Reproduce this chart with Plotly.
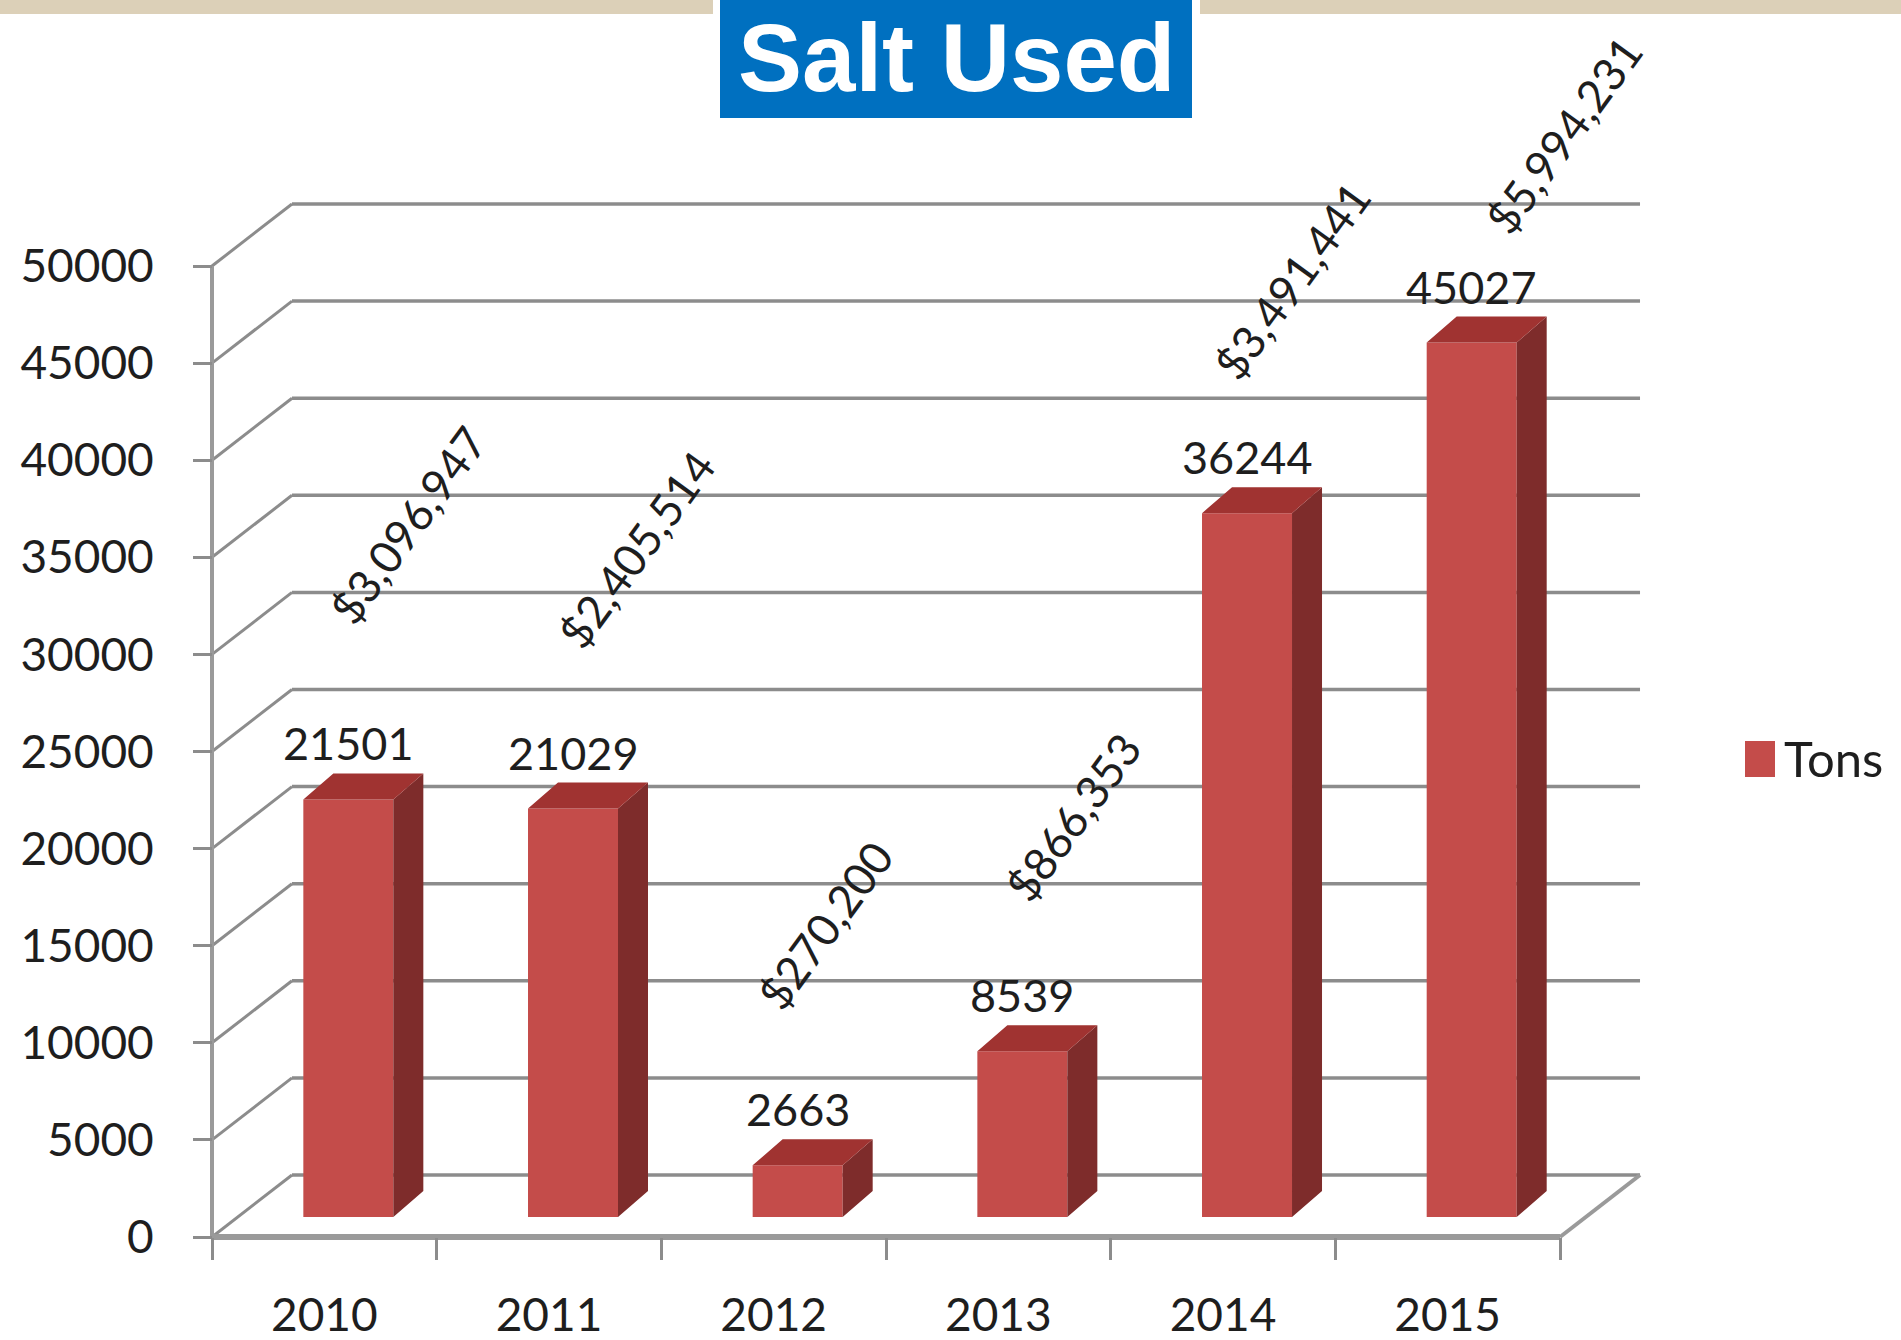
import plotly.graph_objects as go

# ---------------- data ----------------
years = ["2010", "2011", "2012", "2013", "2014", "2015"]
tons = [21501, 21029, 2663, 8539, 36244, 45027]
costs = ["$3,096,947", "$2,405,514", "$270,200", "$866,353", "$3,491,441", "$5,994,231"]
y_tick_values = [0, 5000, 10000, 15000, 20000, 25000, 30000, 35000, 40000, 45000, 50000]
y_tick_labels = ["0", "5000", "10000", "15000", "20000", "25000", "30000",
                 "35000", "40000", "45000", "50000"]
series_name = "Tons"
title_text = "Salt Used"

# ---------------- layout / style ----------------
W, H = 1901, 1340
FONT = "Lato, 'Open Sans', sans-serif"
TXT = "#1e1e1e"
GRID = "#8c8c8c"
FRONT = "#C44C4A"
SIDE = "#7E2C2B"
TOP = "#A03331"

X0_PX = 212          # pixel of front-left corner (x = -0.5)
CAT_PX = 224.67      # pixels per category
Y0_PX = 1237         # pixel row of value 0 on the front plane
VAL_PX = 971 / 50000 # pixels per ton


def ux(px):
    return px / CAT_PX


def uy(px):
    return px / VAL_PX


n = len(years)
xs = list(range(n))
WALL_DX, WALL_DY = ux(80), uy(62)     # depth of floor / side wall
BAR_DX, BAR_BASE = ux(24), uy(20)     # bars sit a little back from the front plane
BAR_W = ux(90)
DEP_DX, DEP_DY = ux(30), uy(26)       # depth of each bar

PAD_L, PAD_B = 7, 8
x_lo = -0.5 - ux(PAD_L)
x_hi = n - 0.5 + WALL_DX + ux(12)
y_lo = -uy(PAD_B)
y_hi = uy(Y0_PX)
dom_x = [(X0_PX - PAD_L) / W, (X0_PX + (x_hi + 0.5) * CAT_PX) / W]
dom_y = [(H - Y0_PX - PAD_B) / H, 1]

# cost label nudges (pixels from bar top)
COST_NUDGE = [(60, -274), (63, -259), (28, -240), (51, -234), (45, -232), (92, -208)]

fig = go.Figure()

# ---- back wall / side wall grid lines (shapes, below traces) ----
shapes = []
left, right = -0.5, n - 0.5
for g in y_tick_values:
    shapes.append(dict(type="line", xref="x", yref="y", layer="below",
                       x0=left, y0=g, x1=left + WALL_DX, y1=g + WALL_DY,
                       line=dict(color=GRID, width=3)))
    shapes.append(dict(type="line", xref="x", yref="y", layer="below",
                       x0=left + WALL_DX, y0=g + WALL_DY, x1=right + WALL_DX, y1=g + WALL_DY,
                       line=dict(color=GRID, width=3.5)))
# floor right edge
shapes.append(dict(type="line", xref="x", yref="y", layer="below",
                   x0=right, y0=0, x1=right + WALL_DX, y1=WALL_DY,
                   line=dict(color="#9a9a9a", width=4)))
# front floor edge
shapes.append(dict(type="line", xref="x", yref="y", layer="below",
                   x0=left, y0=0, x1=right, y1=0,
                   line=dict(color="#9a9a9a", width=6)))
# front vertical axis
shapes.append(dict(type="line", xref="x", yref="y", layer="below",
                   x0=left, y0=0, x1=left, y1=y_tick_values[-1],
                   line=dict(color="#9a9a9a", width=4)))

# ---- bars: front faces ----
fig.add_trace(go.Bar(
    x=[i + BAR_DX for i in xs], y=tons, base=BAR_BASE, width=BAR_W,
    marker=dict(color=FRONT, line=dict(width=0)), name=series_name,
    showlegend=False, hoverinfo="y"))

# ---- bar side faces and top faces ----
side_x, side_y, top_x, top_y = [], [], [], []
for i, v in zip(xs, tons):
    xl = i + BAR_DX - BAR_W / 2
    xr = i + BAR_DX + BAR_W / 2
    b = BAR_BASE
    side_x += [xr, xr + DEP_DX, xr + DEP_DX, xr, xr, None]
    side_y += [b, b + DEP_DY, b + v + DEP_DY, b + v, b, None]
    top_x += [xl, xr, xr + DEP_DX, xl + DEP_DX, xl, None]
    top_y += [b + v, b + v, b + v + DEP_DY, b + v + DEP_DY, b + v, None]
fig.add_trace(go.Scatter(x=side_x, y=side_y, mode="lines", fill="toself",
                         fillcolor=SIDE, line=dict(width=0, color=SIDE),
                         showlegend=False, hoverinfo="skip"))
fig.add_trace(go.Scatter(x=top_x, y=top_y, mode="lines", fill="toself",
                         fillcolor=TOP, line=dict(width=0, color=TOP),
                         showlegend=False, hoverinfo="skip"))

# ---- labels ----
annotations = []
for i, v, c, (ndx, ndy) in zip(xs, tons, costs, COST_NUDGE):
    annotations.append(dict(x=i + BAR_DX, y=BAR_BASE + v, xref="x", yref="y",
                            text=str(v), showarrow=False, yshift=56,
                            xanchor="center", yanchor="middle",
                            font=dict(family=FONT, size=45, color=TXT)))
    annotations.append(dict(x=i + BAR_DX, y=BAR_BASE + v, xref="x", yref="y",
                            text=c, showarrow=False, textangle=-54,
                            xshift=ndx, yshift=-ndy,
                            xanchor="center", yanchor="middle",
                            font=dict(family=FONT, size=45, color=TXT)))

# ---- top decoration, title ----
BAND = "#DCD0B8"
shapes.append(dict(type="rect", xref="paper", yref="paper", layer="above",
                   x0=0, x1=713 / W, y0=1 - 14 / H, y1=1,
                   fillcolor=BAND, line=dict(width=0)))
shapes.append(dict(type="rect", xref="paper", yref="paper", layer="above",
                   x0=1200 / W, x1=1, y0=1 - 14 / H, y1=1,
                   fillcolor=BAND, line=dict(width=0)))
shapes.append(dict(type="rect", xref="paper", yref="paper", layer="above",
                   x0=720 / W, x1=1192 / W, y0=1 - 118 / H, y1=1,
                   fillcolor="#0070C0", line=dict(width=0)))
annotations.append(dict(x=956 / W, y=1 - 57 / H, xref="paper", yref="paper",
                        text="<b>" + title_text + "</b>", showarrow=False,
                        xanchor="center", yanchor="middle",
                        font=dict(family="Liberation Sans, Arial, sans-serif",
                                  size=96, color="white")))

# ---- legend (marker + text) ----
shapes.append(dict(type="rect", xref="paper", yref="paper", layer="above",
                   x0=1745 / W, x1=1775 / W, y0=1 - 777 / H, y1=1 - 741 / H,
                   fillcolor=FRONT, line=dict(width=0)))
annotations.append(dict(x=1782 / W, y=1 - 758 / H, xref="paper", yref="paper",
                        text=series_name, showarrow=False,
                        xanchor="left", yanchor="middle",
                        font=dict(family=FONT, size=49, color=TXT)))

fig.update_layout(
    width=W, height=H, autosize=False,
    margin=dict(l=0, r=0, t=0, b=0, pad=0, autoexpand=False),
    paper_bgcolor="white", plot_bgcolor="rgba(0,0,0,0)",
    shapes=shapes, annotations=annotations,
    showlegend=False,
    xaxis=dict(range=[x_lo, x_hi], domain=dom_x, anchor="free",
               position=(H - Y0_PX) / H, automargin=False,
               tickmode="array", tickvals=xs, ticktext=years, ticks="",
               showgrid=False, zeroline=False, showline=False,
               tickfont=dict(family=FONT, size=46, color=TXT),
               ticklabelstandoff=47,
               minor=dict(tickmode="array", tickvals=[i - 0.5 for i in range(n + 1)],
                          ticks="outside", ticklen=22, tickwidth=3, tickcolor=GRID,
                          showgrid=False)),
    yaxis=dict(range=[y_lo, y_hi], domain=dom_y, anchor="free",
               position=X0_PX / W, automargin=False,
               tickmode="array", tickvals=y_tick_values, ticktext=y_tick_labels,
               ticks="outside", ticklen=19, tickwidth=3, tickcolor=GRID,
               showgrid=False, zeroline=False, showline=False,
               tickfont=dict(family=FONT, size=46, color=TXT),
               ticklabelstandoff=30),
)

fig.write_html(
    "out.html",
    config={"displayModeBar": False},
    post_script=("var s=document.createElement('style');"
                 "s.textContent='html,body{margin:0;padding:0;overflow:hidden;}';"
                 "document.head.appendChild(s);"),
)
